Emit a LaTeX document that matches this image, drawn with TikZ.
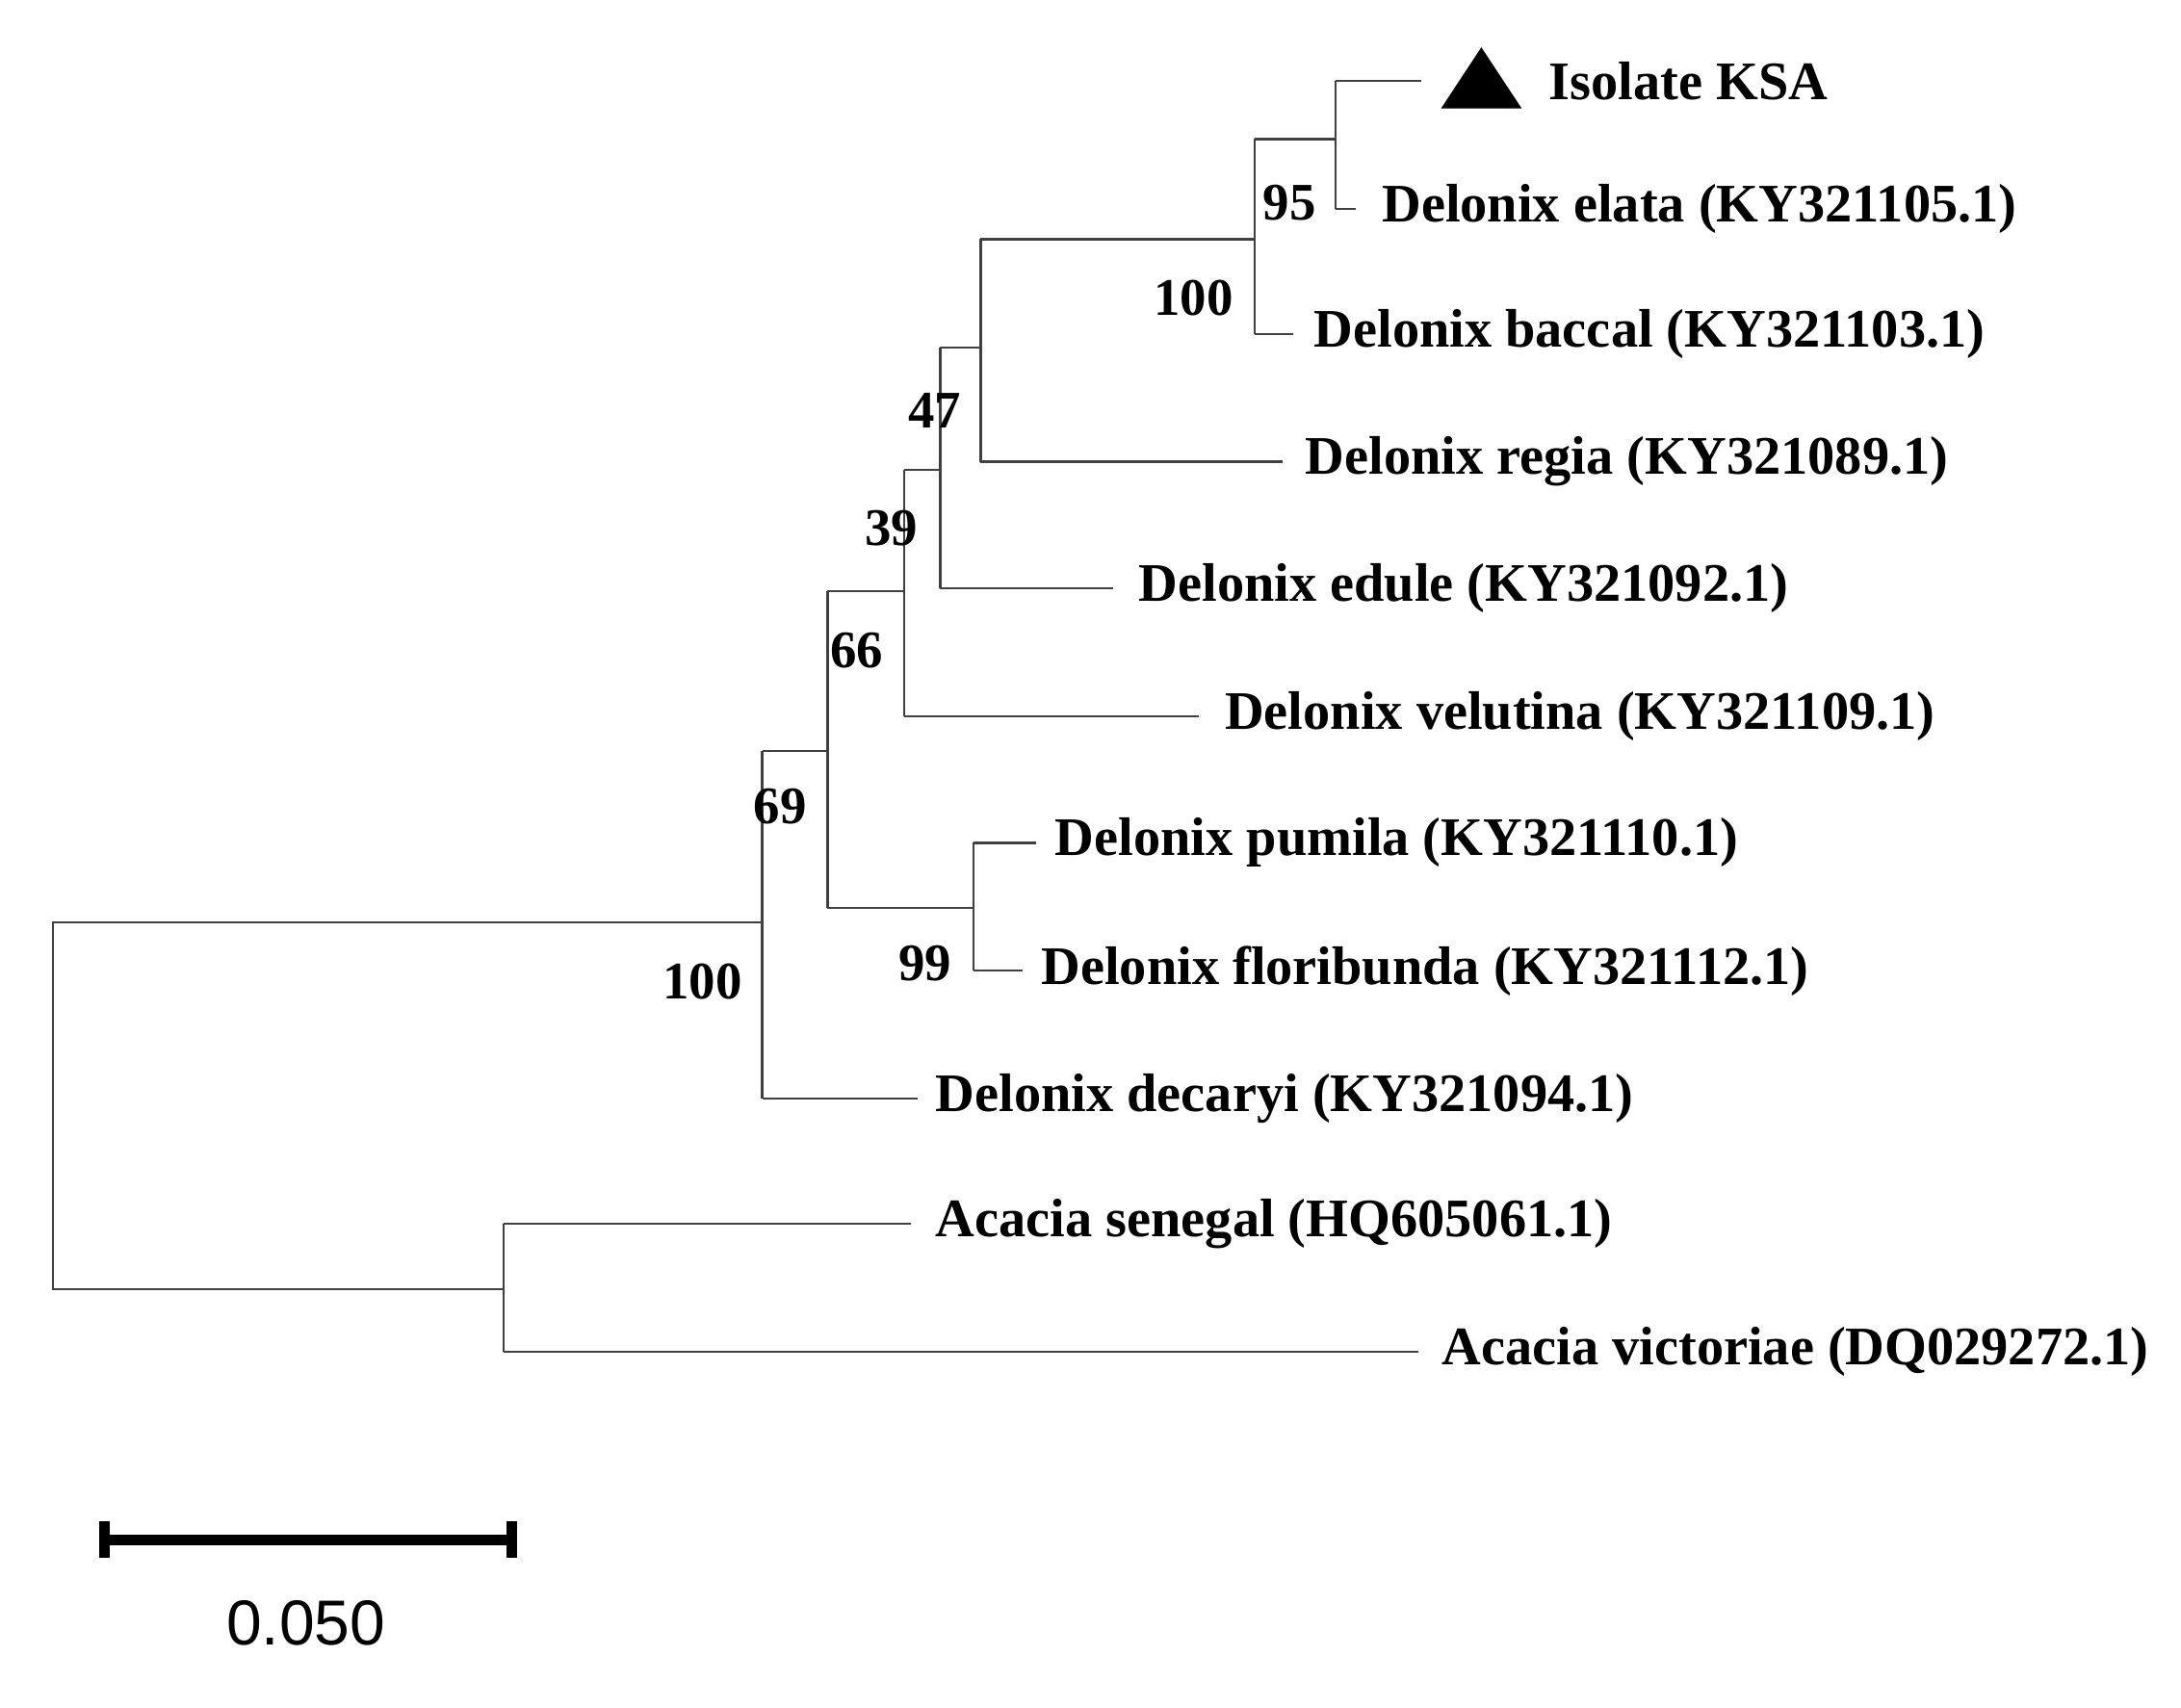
\documentclass[tikz,border=0pt]{standalone}
\usepackage{fontspec}
\setmainfont{Liberation Serif}
\setsansfont{Liberation Sans}
\begin{document}
\begin{tikzpicture}[x=0.1mm,y=-0.1mm,
  br/.style={draw=black!75,line width=0.45pt},
  lf/.style={anchor=west,inner sep=0pt,font=\fontsize{11.1}{13}\selectfont\bfseries},
  bs/.style={inner sep=0pt,font=\fontsize{10.8}{13}\selectfont\bfseries}]
\useasboundingbox (0,0) rectangle (1568,1228);
% junctions
\coordinate (r) at (38,663); \coordinate (r2) at (38,927);
\coordinate (a) at (548,663);
\coordinate (b) at (595,540); \coordinate (dec) at (660,790);
\coordinate (c) at (650,425); \coordinate (f) at (700,653);
\coordinate (d) at (676,338); \coordinate (vel) at (862,515);
\coordinate (e) at (705,250); \coordinate (edu) at (800,423);
\coordinate (g) at (902,172); \coordinate (reg) at (922,332);
\coordinate (h) at (960,100); \coordinate (bac) at (930,240);
\coordinate (isl) at (1022,58); \coordinate (ela) at (975,150);
\coordinate (pum) at (745,606); \coordinate (flo) at (735,698);
\coordinate (k) at (362,927); \coordinate (sen) at (655,880); \coordinate (vic) at (1020,972);
% branches
\draw[br] (a) -- (r) -- (r2) -- (k);
\draw[br] (a |- b) -- (b); \draw[br] (a |- dec) -- (dec); \draw[br] (a|-b) -- (a|-dec);
\draw[br] (b |- c) -- (c); \draw[br] (b |- f) -- (f); \draw[br] (b|-c) -- (b|-f);
\draw[br] (f |- pum) -- (pum); \draw[br] (f |- flo) -- (flo); \draw[br] (f|-pum) -- (f|-flo);
\draw[br] (c |- d) -- (d); \draw[br] (c |- vel) -- (vel); \draw[br] (c|-d) -- (c|-vel);
\draw[br] (d |- e) -- (e); \draw[br] (d |- edu) -- (edu); \draw[br] (d|-e) -- (d|-edu);
\draw[br] (e |- g) -- (g); \draw[br] (e |- reg) -- (reg); \draw[br] (e|-g) -- (e|-reg);
\draw[br] (g |- h) -- (h); \draw[br] (g |- bac) -- (bac); \draw[br] (g|-h) -- (g|-bac);
\draw[br] (h |- isl) -- (isl); \draw[br] (h |- ela) -- (ela); \draw[br] (h|-isl) -- (h|-ela);
\draw[br] (k |- sen) -- (sen); \draw[br] (k |- vic) -- (vic); \draw[br] (k|-sen) -- (k|-vic);
% labels
\fill (1036,78) -- (1094,78) -- (1065,34) -- cycle;
\node[lf] (t1) at (1113,58) {Isolate KSA};
\node[lf] (t2) at (993,150) {Delonix elata (KY321105.1)};
\node[lf] (t3) at (944,240) {Delonix baccal (KY321103.1)};
\node[lf] (t4) at (938,332) {Delonix regia (KY321089.1)};
\node[lf] (t5) at (818,423) {Delonix edule (KY321092.1)};
\node[lf] (t6) at (880,515) {Delonix velutina (KY321109.1)};
\node[lf] (t7) at (758,606) {Delonix pumila (KY321110.1)};
\node[lf] (t8) at (748,698) {Delonix floribunda (KY321112.1)};
\node[lf] (t9) at (672,790) {Delonix decaryi (KY321094.1)};
\node[lf] (t10) at (672,880) {Acacia senegal (HQ605061.1)};
\node[lf] (t11) at (1036,972) {Acacia victoriae (DQ029272.1)};
% bootstrap
\node[bs] (b1) at (927,146) {95};
\node[bs] (b2) at (858,214) {100};
\node[bs] (b3) at (672,295) {47};
\node[bs] (b4) at (641,380) {39};
\node[bs] (b5) at (616,468) {66};
\node[bs] (b6) at (561,580) {69};
\node[bs] (b7) at (505,706) {100};
\node[bs] (b8) at (665,693) {99};
% scale bar
\coordinate (s1) at (75,1107); \coordinate (s2) at (368,1107);
\draw[line width=2.2pt] (s1) -- (s2);
\draw[line width=2.2pt] (75,1094) -- (75,1120) (368,1094) -- (368,1120);
\node[inner sep=0pt,font=\sffamily\fontsize{13}{15}\selectfont] (sl) at (220,1167) {0.050};
\end{tikzpicture}
\end{document}
